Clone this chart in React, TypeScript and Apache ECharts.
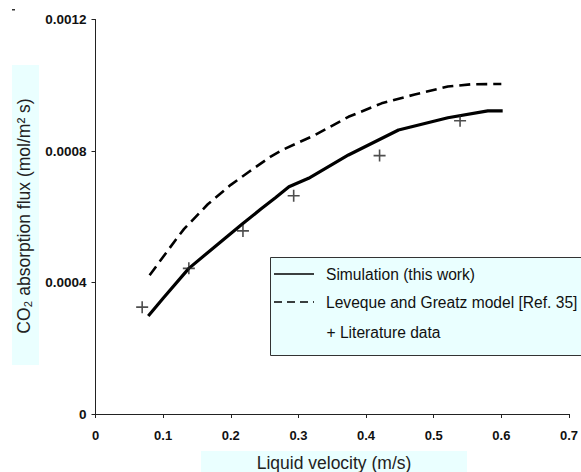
import React, { useEffect, useRef } from "react";
import * as echarts from "echarts";

const simX = [0.078, 0.1, 0.138, 0.18, 0.217, 0.245, 0.266, 0.286, 0.315, 0.374, 0.448, 0.521, 0.58, 0.602];
const simY = [0.000298, 0.000352, 0.000443, 0.000515, 0.000578, 0.000624, 0.000658, 0.000691, 0.000717, 0.000788, 0.000864, 0.000901, 0.000922, 0.000922];

const levX = [0.08, 0.119, 0.131, 0.166, 0.2, 0.227, 0.259, 0.276, 0.325, 0.374, 0.423, 0.472, 0.521, 0.556, 0.6];
const levY = [0.000422, 0.000531, 0.000563, 0.000638, 0.000697, 0.000737, 0.000783, 0.000803, 0.000849, 0.000904, 0.000945, 0.000972, 0.000996, 0.001003, 0.001004];

const litX = [0.069, 0.138, 0.218, 0.293, 0.42, 0.539];
const litY = [0.000325, 0.000443, 0.000557, 0.000664, 0.000786, 0.000892];

const seriesNames = ["Simulation (this work)", "Leveque and Greatz model [Ref. 35]", "+ Literature data"];
const xTitle = "Liquid velocity (m/s)";
const yTitle = "CO\u2082 absorption flux (mol/m\u00B2 s)";

const zip = (xs: number[], ys: number[]) => xs.map((x, i) => [x, ys[i]]);

const FONT = "'Liberation Sans', Arial, sans-serif";

export default function App() {
  const ref = useRef<HTMLDivElement>(null);
  useEffect(() => {
    if (!ref.current) return;
    const chart = echarts.init(ref.current, undefined, { renderer: "svg" });
    chart.setOption({
      animation: false,
      backgroundColor: "#ffffff",
      grid: { left: 95.5, right: 9.5, top: 19.5, bottom: 58, containLabel: false },
      xAxis: {
        type: "value",
        min: 0,
        max: 0.7,
        interval: 0.1,
        splitLine: { show: false },
        axisLine: { show: true, onZero: false, lineStyle: { color: "#222", width: 1 } },
        axisTick: { show: true, length: 4, inside: false, lineStyle: { color: "#222" } },
        axisLabel: {
          color: "#111",
          fontFamily: FONT,
          fontWeight: "bold",
          fontSize: 13,
          margin: 15,
          formatter: (v: number) => (v === 0 ? "0" : v.toFixed(1)),
        },
      },
      yAxis: {
        type: "value",
        min: 0,
        max: 0.0012,
        interval: 0.0004,
        splitLine: { show: false },
        axisLine: { show: true, lineStyle: { color: "#222", width: 1 } },
        axisTick: { show: true, length: 4, inside: false, lineStyle: { color: "#222" } },
        axisLabel: {
          color: "#111",
          fontFamily: FONT,
          fontWeight: "bold",
          fontSize: 13.5,
          margin: 9,
          formatter: (v: number) => (v === 0 ? "0" : v.toFixed(4)),
        },
      },
      series: [
        {
          name: seriesNames[0],
          type: "line",
          data: zip(simX, simY),
          showSymbol: false,
          symbol: "none",
          lineStyle: { color: "#000", width: 3.2 },
          z: 3,
        },
        {
          name: seriesNames[1],
          type: "line",
          data: zip(levX, levY),
          showSymbol: false,
          symbol: "none",
          lineStyle: { color: "#000", width: 2.6, type: [11, 6] },
          z: 3,
        },
        {
          name: seriesNames[2],
          type: "scatter",
          data: zip(litX, litY),
          symbol: "path://M0,5L10,5M5,0L5,10",
          symbolSize: 12,
          itemStyle: { color: "rgba(0,0,0,0)", borderColor: "#222", borderWidth: 1.6 },
          z: 4,
        },
      ],
      graphic: [
        { type: "rect", shape: { x: 12, y: 9, width: 3, height: 1.5 }, style: { fill: "#333" } },
        { type: "rect", shape: { x: 12, y: 65, width: 27, height: 300 }, style: { fill: "#eaffff" }, z: -1 },
        {
          type: "text",
          x: 24,
          y: 216,
          rotation: Math.PI / 2,
          style: {
            text: yTitle,
            fill: "#222",
            font: `17.5px ${FONT}`,
            align: "center",
            verticalAlign: "middle",
          },
        },
        { type: "rect", shape: { x: 201, y: 451, width: 266, height: 24 }, style: { fill: "#eaffff" }, z: -1 },
        {
          type: "text",
          x: 334,
          y: 463,
          style: {
            text: xTitle,
            fill: "#222",
            font: `17.5px ${FONT}`,
            align: "center",
            verticalAlign: "middle",
          },
        },
        {
          type: "rect",
          shape: { x: 270.5, y: 257.5, width: 330, height: 98 },
          style: { fill: "#eaffff", stroke: "#333", lineWidth: 1 },
          z: 10,
        },
        { type: "line", shape: { x1: 274, y1: 274, x2: 314, y2: 274 }, style: { stroke: "#000", lineWidth: 1.5 }, z: 11 },
        {
          type: "line",
          shape: { x1: 274, y1: 302, x2: 314, y2: 302 },
          style: { stroke: "#000", lineWidth: 1.6, lineDash: [8, 5] },
          z: 11,
        },
        {
          type: "text",
          x: 326,
          y: 274,
          style: { text: seriesNames[0], fill: "#111", font: `15.6px ${FONT}`, align: "left", verticalAlign: "middle" },
          z: 11,
        },
        {
          type: "text",
          x: 326,
          y: 302,
          style: { text: seriesNames[1], fill: "#111", font: `15.6px ${FONT}`, align: "left", verticalAlign: "middle" },
          z: 11,
        },
        {
          type: "text",
          x: 326.5,
          y: 332,
          style: { text: seriesNames[2], fill: "#111", font: `15.6px ${FONT}`, align: "left", verticalAlign: "middle" },
          z: 11,
        },
      ],
    });
    return () => chart.dispose();
  }, []);
  return <div ref={ref} style={{ width: 581, height: 472, position: "absolute", left: 0, top: 0 }} />;
}
